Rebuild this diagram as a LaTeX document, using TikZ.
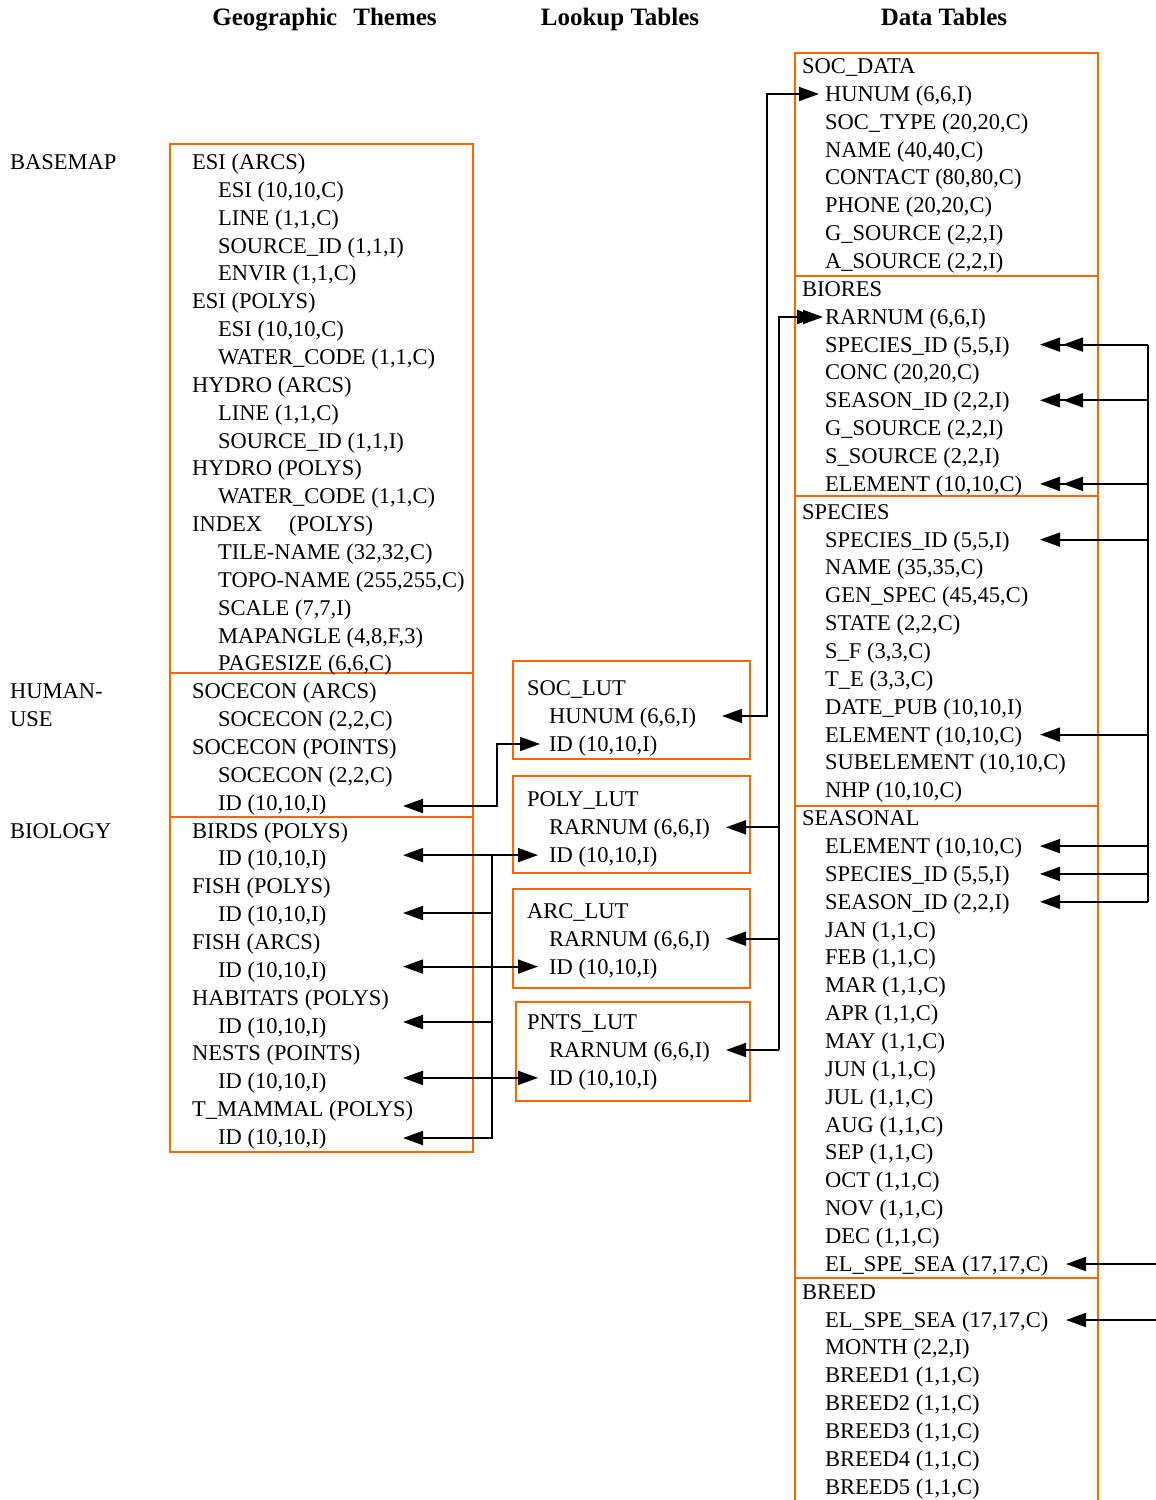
\documentclass[tikz,border=0pt]{standalone}
\usepackage{fontspec}
\setmainfont{Liberation Serif}
\usetikzlibrary{arrows.meta}
\definecolor{orng}{HTML}{FF6600}
\newcommand\bodyfs{\fontsize{22.5}{27.86}\selectfont}
\newcommand\hdrfs{\fontsize{25}{30}\selectfont}
\begin{document}
\begin{tikzpicture}[x=1pt,y={(0pt,-1pt)},
  fld/.style={anchor=base west, inner sep=0pt, font=\bodyfs},
  hdr/.style={anchor=base, inner sep=0pt, font=\hdrfs\bfseries},
  tbl/.style={draw=orng, line width=2.2pt},
  link/.style={line width=1.8pt, black},
  >={Triangle[length=20pt,width=14pt]},
  dtip/.tip={Triangle[length=20pt,width=14pt,sep=3pt] Triangle[length=20pt,width=14pt]},
  dtipb/.tip={Triangle[length=20pt,width=14pt,sep=-14pt] Triangle[length=20pt,width=14pt]}]
\useasboundingbox (0,0) rectangle (1156,1500);

% headers
\node[hdr] (h1) at (324.5,25) {Geographic\hspace{16pt}Themes};
\node[hdr] (h2) at (620,25) {Lookup Tables};
\node[hdr] (h3) at (944,25) {Data Tables};

% group labels
\node[fld] (lbase) at (10,169.5) {BASEMAP};
\node[fld] (lhum1) at (10,698.8) {HUMAN-};
\node[fld] (lhum2) at (10,726.6) {USE};
\node[fld] (lbio) at (10,838.1) {BIOLOGY};

% geographic themes box
\draw[tbl] (170,144) rectangle (473,1152);
\draw[tbl] (170,673) -- (473,673);
\draw[tbl] (170,817) -- (473,817);
\foreach \xx/\lbl [count=\i from 0] in {
  192/{ESI (ARCS)}, 218/{ESI (10,10,C)}, 218/{LINE (1,1,C)}, 218/{SOURCE\_ID (1,1,I)}, 218/{ENVIR (1,1,C)},
  192/{ESI (POLYS)}, 218/{ESI (10,10,C)}, 218/{WATER\_CODE (1,1,C)},
  192/{HYDRO (ARCS)}, 218/{LINE (1,1,C)}, 218/{SOURCE\_ID (1,1,I)},
  192/{HYDRO (POLYS)}, 218/{WATER\_CODE (1,1,C)},
  192/{INDEX\hspace{27pt}(POLYS)}, 218/{TILE-NAME (32,32,C)}, 218/{TOPO-NAME (255,255,C)}, 218/{SCALE (7,7,I)}, 218/{MAPANGLE (4,8,F,3)}, 218/{PAGESIZE (6,6,C)},
  192/{SOCECON (ARCS)}, 218/{SOCECON (2,2,C)}, 192/{SOCECON (POINTS)}, 218/{SOCECON (2,2,C)}, 218/{ID (10,10,I)},
  192/{BIRDS (POLYS)}, 218/{ID (10,10,I)}, 192/{FISH (POLYS)}, 218/{ID (10,10,I)}, 192/{FISH (ARCS)}, 218/{ID (10,10,I)},
  192/{HABITATS (POLYS)}, 218/{ID (10,10,I)}, 192/{NESTS (POINTS)}, 218/{ID (10,10,I)}, 192/{T\_MAMMAL (POLYS)}, 218/{ID (10,10,I)}}
  \node[fld] (g\i) at (\xx,{162+27.857*\i+7.5}) {\lbl};

% lookup tables
\draw[tbl] (513,661) rectangle (750,759);
\draw[tbl] (513,776) rectangle (750,873);
\draw[tbl] (513,889) rectangle (750,988);
\draw[tbl] (516,1002) rectangle (750,1101);
\foreach \nm/\ttl/\fa [count=\j from 0] in {s/SOC\_LUT/HUNUM, p/POLY\_LUT/RARNUM, a/ARC\_LUT/RARNUM, n/PNTS\_LUT/RARNUM}{
  \node[fld] (\nm0) at (527,{688+111.43*\j+7.5}) {\ttl};
  \node[fld] (\nm1) at (549,{688+111.43*\j+27.86+7.5}) {\fa\ (6,6,I)};
  \node[fld] (\nm2) at (549,{688+111.43*\j+55.72+7.5}) {ID (10,10,I)};
}

% data tables
\draw[tbl] (795,1503) -- (795,53) -- (1098,53) -- (1098,1503);
\foreach \yy in {276,496,806,1278} \draw[tbl] (795,\yy) -- (1098,\yy);
\foreach \xx/\lbl [count=\i from 0] in {
  802/{SOC\_DATA}, 825/{HUNUM (6,6,I)}, 825/{SOC\_TYPE (20,20,C)}, 825/{NAME (40,40,C)}, 825/{CONTACT (80,80,C)}, 825/{PHONE (20,20,C)}, 825/{G\_SOURCE (2,2,I)}, 825/{A\_SOURCE (2,2,I)},
  802/{BIORES}, 825/{RARNUM (6,6,I)}, 825/{SPECIES\_ID (5,5,I)}, 825/{CONC (20,20,C)}, 825/{SEASON\_ID (2,2,I)}, 825/{G\_SOURCE (2,2,I)}, 825/{S\_SOURCE (2,2,I)}, 825/{ELEMENT (10,10,C)},
  802/{SPECIES}, 825/{SPECIES\_ID (5,5,I)}, 825/{NAME (35,35,C)}, 825/{GEN\_SPEC (45,45,C)}, 825/{STATE (2,2,C)}, 825/{S\_F (3,3,C)}, 825/{T\_E (3,3,C)}, 825/{DATE\_PUB (10,10,I)}, 825/{ELEMENT (10,10,C)}, 825/{SUBELEMENT (10,10,C)}, 825/{NHP (10,10,C)},
  802/{SEASONAL}, 825/{ELEMENT (10,10,C)}, 825/{SPECIES\_ID (5,5,I)}, 825/{SEASON\_ID (2,2,I)}, 825/{JAN (1,1,C)}, 825/{FEB (1,1,C)}, 825/{MAR (1,1,C)}, 825/{APR (1,1,C)}, 825/{MAY (1,1,C)}, 825/{JUN (1,1,C)}, 825/{JUL (1,1,C)}, 825/{AUG (1,1,C)}, 825/{SEP (1,1,C)}, 825/{OCT (1,1,C)}, 825/{NOV (1,1,C)}, 825/{DEC (1,1,C)}, 825/{EL\_SPE\_SEA (17,17,C)},
  802/{BREED}, 825/{EL\_SPE\_SEA (17,17,C)}, 825/{MONTH (2,2,I)}, 825/{BREED1 (1,1,C)}, 825/{BREED2 (1,1,C)}, 825/{BREED3 (1,1,C)}, 825/{BREED4 (1,1,C)}, 825/{BREED5 (1,1,C)}}
  \node[fld] (d\i) at (\xx,{66+27.857*\i+7.5}) {\lbl};

% ---- connectors ----
% SOC_LUT.HUNUM <-> SOC_DATA.HUNUM
\coordinate (socA) at (722,716);
\coordinate (socB) at (767,716);
\coordinate (socC) at (819,94);
\draw[link,<->] (socA) -- (socB) |- (socC);

% RARNUM links
\coordinate (rTop) at (779,317);
\coordinate (rBio) at (823,317);
\coordinate (rP) at (779,827.3);
\coordinate (rA) at (779,938.7);
\coordinate (rN) at (779,1050);
\coordinate (tP) at (726,827.3);
\coordinate (tA) at (726,938.7);
\coordinate (tN) at (726,1050);
\draw[link,-dtipb] (rN) -- (rTop) -- (rBio);
\draw[link,->] (rP) -- (tP);
\draw[link,->] (rA) -- (tA);
\draw[link,->] (rN) -- (tN);

% right-hand key links
\foreach \yy/\nm in {344.6/q1,400.3/q2,483.9/q3,539.6/q4,734.6/q5,846.1/q6,873.9/q7,901.8/q8}{
  \coordinate (\nm) at (1148,\yy);
  \coordinate (\nm t) at (1040,\yy);
}
\draw[link] (q1) -- (q8);
\draw[link,-dtip] (q1) -- (q1t);
\draw[link,-dtip] (q2) -- (q2t);
\draw[link,-dtip] (q3) -- (q3t);
\draw[link,->] (q4) -- (q4t);
\draw[link,->] (q5) -- (q5t);
\draw[link,->] (q6) -- (q6t);
\draw[link,->] (q7) -- (q7t);
\draw[link,->] (q8) -- (q8t);

% EL_SPE_SEA links from the right edge
\coordinate (e1) at (1162,1264);
\coordinate (e1t) at (1066,1264);
\coordinate (e2) at (1162,1320);
\coordinate (e2t) at (1066,1320);
\draw[link,->] (e1) -- (e1t);
\draw[link,->] (e2) -- (e2t);

% SOCECON ID <-> SOC_LUT ID
\coordinate (hA) at (403,806);
\coordinate (hB) at (497,806);
\coordinate (hC) at (540,744);
\draw[link,<->] (hA) -- (hB) |- (hC);

% biology ID links
\coordinate (b1) at (403,855.1);  \coordinate (b1r) at (538,855.1);
\coordinate (b2) at (403,913);
\coordinate (b3) at (403,966.6);  \coordinate (b3r) at (538,966.6);
\coordinate (b4) at (403,1022);
\coordinate (b5) at (403,1077.9); \coordinate (b5r) at (538,1077.9);
\coordinate (b6) at (403,1138);
\coordinate (v1) at (492,855.1);
\coordinate (v2) at (492,913);
\coordinate (v4) at (492,1022);
\coordinate (v6) at (492,1138);
\draw[link,<->] (b1) -- (b1r);
\draw[link,<->] (b3) -- (b3r);
\draw[link,<->] (b5) -- (b5r);
\draw[link,->] (v1) -- (v6) -- (b6);
\draw[link,->] (v2) -- (b2);
\draw[link,->] (v4) -- (b4);
\end{tikzpicture}
\end{document}
